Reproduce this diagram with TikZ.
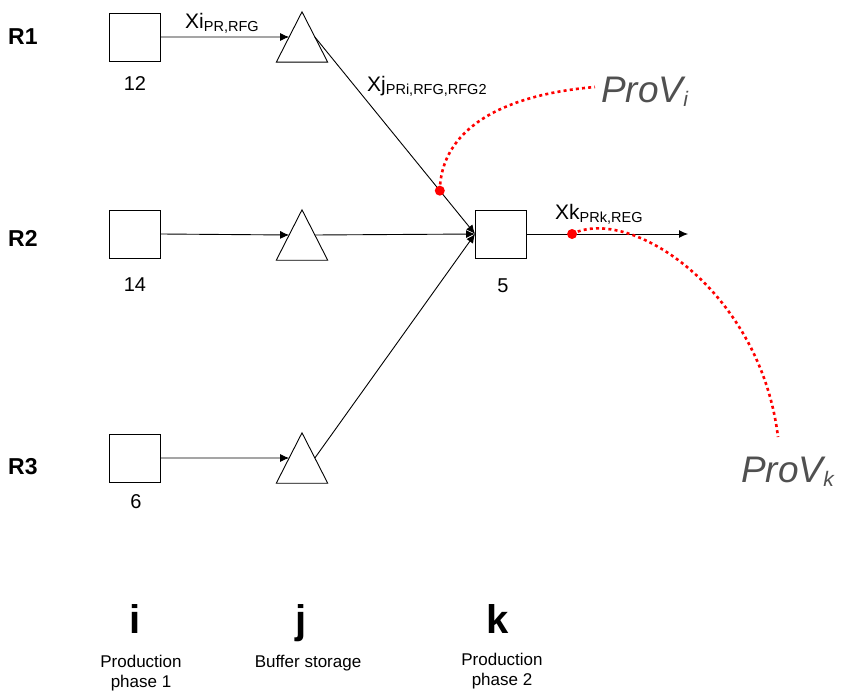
\documentclass[tikz,border=0pt]{standalone}
\usepackage{fontspec}
\setmainfont{Liberation Sans}
\usetikzlibrary{arrows.meta,calc}

\definecolor{provgray}{HTML}{505050}
\tikzset{
  stagebox/.style={draw, line width=0.9pt, minimum width=51pt, minimum height=48pt, inner sep=0pt},
  buffer/.style={minimum width=51pt, minimum height=50pt, inner sep=0pt,
    append after command={
      \pgfextra{\draw[line width=0.9pt] (\tikzlastnode.south west) -- (\tikzlastnode.north)
        -- (\tikzlastnode.south east) -- cycle;}}},
  flow/.style={line width=0.9pt, -{Latex[length=9pt,width=8pt]}},
  rowlabel/.style={font={\fontsize{23}{23}\selectfont\bfseries}, inner sep=0pt, anchor=base west},
  qty/.style={font={\fontsize{20}{20}\selectfont}, inner sep=0pt, anchor=base},
  varlabel/.style={inner sep=0pt, anchor=base west},
  provlabel/.style={inner sep=0pt, anchor=base west, text=provgray,
    font={\fontsize{37}{37}\selectfont\itshape}},
  idx/.style={font={\fontsize{40}{40}\selectfont\bfseries}, inner sep=0pt, anchor=base},
  caption/.style={font={\fontsize{17}{17}\selectfont}, inner sep=0pt, align=center, anchor=base},
  provline/.style={red, line width=2.6pt, dash pattern=on 3pt off 3.2pt},
  provdot/.style={circle, fill=red, inner sep=0pt, minimum size=10pt},
}

\newcommand{\flowvar}[2]{{\fontsize{21}{21}\selectfont #1}{\fontsize{14.5}{14.5}\selectfont\raisebox{-3pt}{#2}}}
\newcommand{\provsub}[1]{\raisebox{-4pt}{\fontsize{21}{21}\selectfont #1}}

\begin{document}
\begin{tikzpicture}[x=1pt, y=-1pt]
  \useasboundingbox (0,0) rectangle (843,695);

  % region labels
  \node[rowlabel] (r1) at (8,45) {R1};
  \node[rowlabel] (r2) at (8,247) {R2};
  \node[rowlabel] (r3) at (8,474) {R3};

  % production phase 1
  \node[stagebox] (p1) at (135,37) {};
  \node[stagebox] (p2) at (135,234) {};
  \node[stagebox] (p3) at (135,458) {};
  \node[qty] (n1) at (135,91) {12};
  \node[qty] (n2) at (135,291) {14};
  \node[qty] (n3) at (136,508) {6};

  % buffer storage
  \node[buffer] (b1) at (302,37) {};
  \node[buffer] (b2) at (302,235) {};
  \node[buffer] (b3) at (302,458) {};

  % production phase 2
  \node[stagebox] (k) at (501,234) {};
  \node[qty] (n5) at (503,292) {5};
  \coordinate (out) at (688,234);

  % flows into buffers
  \draw[flow] (p1.east) -- ($(b1.north)!0.5!(b1.south west)$);
  \draw[flow] (p2.east) -- ($(b2.north)!0.5!(b2.south west)$);
  \draw[flow] (p3.east) -- ($(b3.north)!0.5!(b3.south west)$);

  % flows into phase 2
  \draw[flow] ($(b1.north)!0.5!(b1.south east)$) -- (k.west) coordinate[pos=0.78] (pj);
  \draw[flow] ($(b2.north)!0.5!(b2.south east)$) -- (k.west);
  \draw[flow] ($(b3.north)!0.5!(b3.south east)$) -- (k.west);

  % output flow
  \draw[flow] (k.east) -- (out) coordinate[pos=0.28] (pk);

  % flow variables
  \node[varlabel] (xi) at (185,29) {\flowvar{Xi}{PR,RFG}};
  \node[varlabel] (xj) at (367,92) {\flowvar{Xj}{PRi,RFG,RFG2}};
  \node[varlabel] (xk) at (555,219) {\flowvar{Xk}{PRk,REG}};

  % provenance annotations
  \node[provlabel] (pvi) at (601,103) {ProV\provsub{i}};
  \node[provlabel] (pvk) at (741,482) {ProV\provsub{k}};
  \coordinate (pvi end) at (595,87);
  \coordinate (pvk end) at (778,437);
  \draw[provline] (pj) .. controls (441,130) and (500,95) .. (pvi end);
  \draw[provline] (pk) .. controls (630,205) and (760,290) .. (pvk end);
  \node[provdot] (dj) at (pj) {};
  \node[provdot] (dk) at (pk) {};

  % stage indices
  \node[idx] (ii) at (135,633) {i};
  \node[idx] (ij) at (301,633) {j};
  \node[idx] (ik) at (498,633) {k};
  \node[caption] (ci) at (141,687) {Production\\[3pt]phase 1};
  \node[caption] (cj) at (308,667) {Buffer storage};
  \node[caption] (ck) at (502,685) {Production\\[3pt]phase 2};
\end{tikzpicture}
\end{document}
